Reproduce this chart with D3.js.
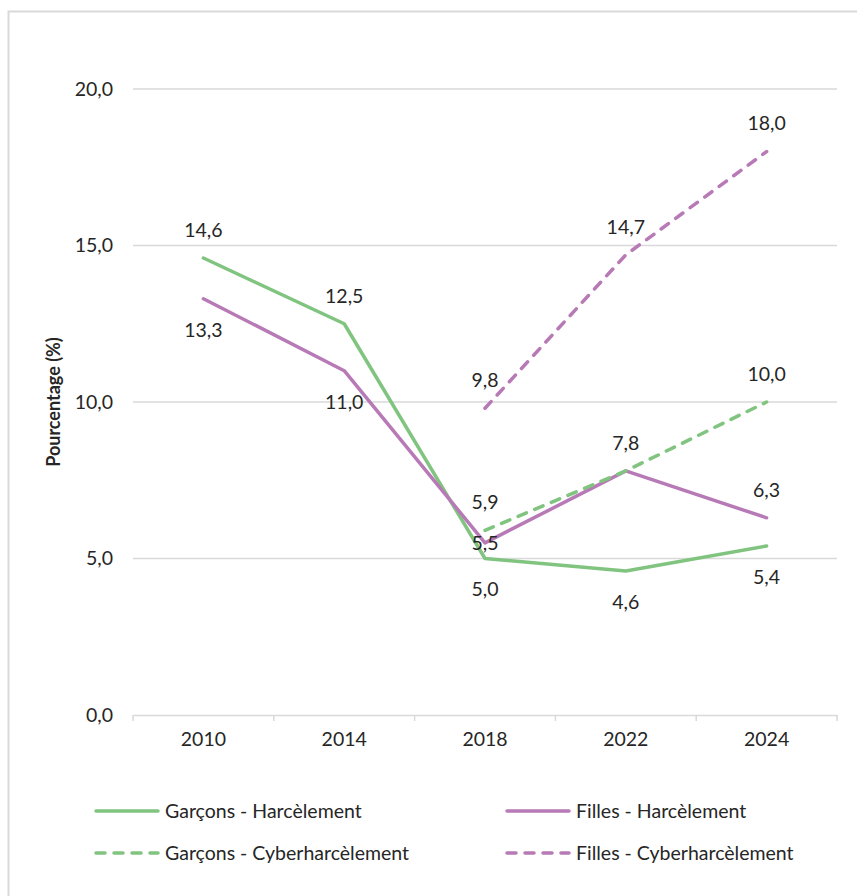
<!DOCTYPE html>
<html>
<head>
<meta charset="utf-8">
<script src="https://cdn.jsdelivr.net/npm/d3@7"></script>
<style>
  body { margin: 0; background: #fff; }
  svg text { font-family: Lato, "Liberation Sans", sans-serif; fill: #262626; }
</style>
</head>
<body>
<svg id="chart" width="857" height="896"></svg>
<script>
// data
const years = ["2010", "2014", "2018", "2022", "2024"]
const garconsHarcelement = [14.6, 12.5, 5.0, 4.6, 5.4]
const fillesHarcelement = [13.3, 11.0, 5.5, 7.8, 6.3]
const garconsCyber = [null, null, 5.9, 7.8, 10.0]
const fillesCyber = [null, null, 9.8, 14.7, 18.0]
const yTicks = [0, 5, 10, 15, 20]

// where each label sits relative to its point (Excel style)
const garconsHPos = ["above", "above", "below", "below", "below"]
const fillesHPos = ["below", "below", "center", "none", "above"]
const garconsCPos = [null, null, "above", "above", "above"]
const fillesCPos = [null, null, "above", "above", "above"]

const green = "#80c47f", purple = "#b77ab6"
const fontSize = 19.5

const series = [
  {name: "Garçons - Harcèlement", values: garconsHarcelement, pos: garconsHPos, color: green, dash: null},
  {name: "Filles - Harcèlement", values: fillesHarcelement, pos: fillesHPos, color: purple, dash: null},
  {name: "Garçons - Cyberharcèlement", values: garconsCyber, pos: garconsCPos, color: green, dash: "9,9"},
  {name: "Filles - Cyberharcèlement", values: fillesCyber, pos: fillesCPos, color: purple, dash: "9,9"}
]

let svg = d3.select("#chart"),
    plotLeft = 133, plotRight = 837, plotTop = 89, plotBottom = 715

svg.append("rect")
    .attr("x", 8.5).attr("y", 11.5).attr("width", 900).attr("height", 950)
    .attr("fill", "none").attr("stroke", "#d9d9d9").attr("stroke-width", 2)

let x = d3.scaleBand().domain(years).range([plotLeft, plotRight])
let y = d3.scaleLinear().domain([0, 20]).range([plotBottom, plotTop])
let fmt = v => d3.format(".1f")(v).replace(".", ",")

// gridlines
svg.append("g").selectAll("line").data(yTicks.filter(d => d > 0)).enter().append("line")
    .attr("x1", plotLeft).attr("x2", plotRight)
    .attr("y1", d => y(d)).attr("y2", d => y(d))
    .attr("stroke", "#d9d9d9").attr("stroke-width", 1.5)

// y axis
let yAxis = svg.append("g").attr("transform", "translate(" + plotLeft + ",0)")
    .call(d3.axisLeft(y).tickValues(yTicks).tickFormat(fmt).tickSize(0).tickPadding(20))
yAxis.select(".domain").remove()
yAxis.selectAll("text").attr("font-size", fontSize).attr("font-family", null)

// x axis
let xAxis = svg.append("g").attr("transform", "translate(0," + plotBottom + ")")
    .call(d3.axisBottom(x).tickSize(0).tickPadding(20))
xAxis.select(".domain").attr("stroke", "#d9d9d9").attr("stroke-width", 1.5)
xAxis.selectAll("text").attr("font-size", fontSize).attr("font-family", null)
    .attr("dy", "0.55em")
xAxis.append("g").selectAll("line").data(years.concat(["end"])).enter().append("line")
    .attr("x1", (d, i) => plotLeft + i * x.step()).attr("x2", (d, i) => plotLeft + i * x.step())
    .attr("y1", 0).attr("y2", 6)
    .attr("stroke", "#d9d9d9").attr("stroke-width", 1.5)

svg.append("text")
    .attr("transform", "translate(60," + y(10) + ")rotate(-90)")
    .attr("text-anchor", "middle")
    .attr("font-size", 18).attr("font-weight", "bold")
    .attr("fill", "#000")
    .text("Pourcentage (%)")

let line = d3.line()
    .defined(d => d != null)
    .x((d, i) => x(years[i]) + x.bandwidth() / 2)
    .y(d => y(d))

series.forEach(s => {
    svg.append("path")
        .datum(s.values)
        .attr("d", line)
        .attr("fill", "none")
        .attr("stroke", s.color)
        .attr("stroke-width", 3.5)
        .attr("stroke-linecap", "round")
        .attr("stroke-linejoin", "round")
        .attr("stroke-dasharray", s.dash)
})

// data labels
series.forEach(s => {
    s.values.forEach((v, i) => {
        if (v == null || s.pos[i] == "none" || s.pos[i] == null) return
        let off = s.pos[i] == "above" ? -28 : s.pos[i] == "below" ? 31 : 0
        svg.append("text")
            .attr("x", x(years[i]) + x.bandwidth() / 2)
            .attr("y", y(v) + off)
            .attr("dy", "0.35em")
            .attr("text-anchor", "middle")
            .attr("font-size", fontSize)
            .text(fmt(v))
    })
})

// legend
let legendPos = [[96, 811], [507, 811], [96, 853], [507, 853]]
series.forEach((s, k) => {
    let [lx, ly] = legendPos[k]
    let g = svg.append("g").attr("transform", "translate(" + lx + "," + ly + ")")
    g.append("line")
        .attr("x1", 0).attr("x2", 62).attr("y1", 0).attr("y2", 0)
        .attr("stroke", s.color).attr("stroke-width", 3.5)
        .attr("stroke-linecap", "round")
        .attr("stroke-dasharray", s.dash)
    g.append("text")
        .attr("x", 69).attr("y", 0).attr("dy", "0.35em")
        .attr("font-size", fontSize)
        .text(s.name)
})
</script>
</body>
</html>
